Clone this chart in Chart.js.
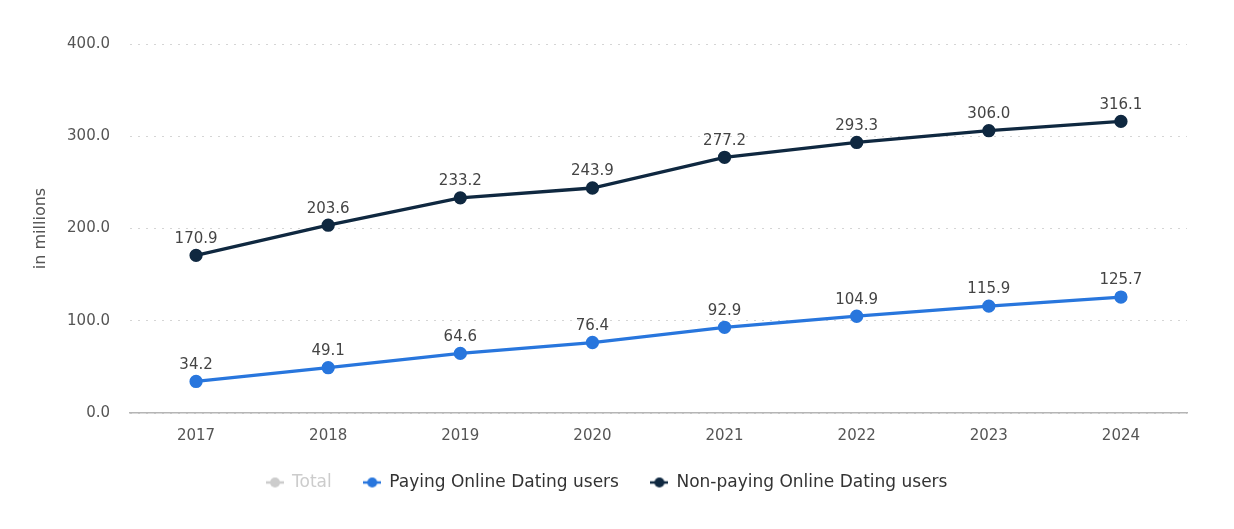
<!DOCTYPE html>
<html>
<head>
<meta charset="utf-8">
<script src="https://cdn.jsdelivr.net/npm/chart.js@4.4.1/dist/chart.umd.min.js"></script>
<style>
  html, body { margin: 0; padding: 0; background: #fff; }
  #wrap { width: 1234px; height: 529px; }
</style>
</head>
<body>
<div id="wrap"><canvas id="myChart"></canvas></div>
<script>
// data
var years = ["2017", "2018", "2019", "2020", "2021", "2022", "2023", "2024"];
var totalUsers = [205.1, 252.7, 297.8, 320.3, 370.1, 398.2, 421.9, 441.8];
var payingUsers = [34.2, 49.1, 64.6, 76.4, 92.9, 104.9, 115.9, 125.7];
var nonPayingUsers = [170.9, 203.6, 233.2, 243.9, 277.2, 293.3, 306.0, 316.1];
var yTicks = [0, 100, 200, 300, 400];

var fontName = "'DejaVu Sans', sans-serif";

// legend marker: short line with a dot on it
function legendMarker(color) {
  var c = document.createElement('canvas');
  c.width = 18; c.height = 12;
  var g = c.getContext('2d');
  g.strokeStyle = color;
  g.lineWidth = 2.5;
  g.beginPath(); g.moveTo(0, 6); g.lineTo(18, 6); g.stroke();
  g.fillStyle = color;
  g.beginPath(); g.arc(9, 6, 5, 0, Math.PI * 2); g.fill();
  return c;
}

// values above each point
var valueLabels = {
  id: 'valueLabels',
  afterDatasetsDraw: function(chart) {
    var ctx = chart.ctx;
    ctx.save();
    ctx.font = '15px ' + fontName;
    ctx.fillStyle = '#444';
    ctx.textAlign = 'center';
    ctx.textBaseline = 'bottom';
    chart.data.datasets.forEach(function(ds, i) {
      if (!chart.isDatasetVisible(i)) return;
      var meta = chart.getDatasetMeta(i);
      meta.data.forEach(function(pt, j) {
        ctx.fillText(ds.data[j].toFixed(1), pt.x, pt.y - 9);
      });
    });
    ctx.restore();
  }
};

var ctx = document.getElementById("myChart").getContext('2d');
var myChart = new Chart(ctx, {
  type: 'line',
  data: {
    labels: years,
    datasets: [{
      label: 'Total',
      data: totalUsers,
      hidden: true,
      borderColor: '#cccccc',
      backgroundColor: '#cccccc'
    }, {
      label: 'Paying Online Dating users',
      data: payingUsers,
      borderColor: '#2876dd',
      backgroundColor: '#2876dd',
      borderWidth: 3.3,
      pointRadius: 5,
      pointHoverRadius: 5
    }, {
      label: 'Non-paying Online Dating users',
      data: nonPayingUsers,
      borderColor: '#0f2840',
      backgroundColor: '#0f2840',
      borderWidth: 3.3,
      pointRadius: 5,
      pointHoverRadius: 5
    }]
  },
  plugins: [valueLabels],
  options: {
    responsive: true,
    maintainAspectRatio: false,
    animation: false,
    layout: {
      padding: { left: 27, right: 47, top: 44, bottom: 28 }
    },
    scales: {
      x: {
        offset: true,
        afterFit: function(axis) { axis.height -= 17; },
        grid: { display: false, drawTicks: false },
        border: { display: true, color: '#b5b5b5', width: 1.5 },
        ticks: {
          color: '#555',
          font: { size: 15, family: fontName },
          padding: 14
        }
      },
      y: {
        min: 0,
        max: 400,
        afterFit: function(axis) { axis.width = 103; },
        afterBuildTicks: function(axis) {
          axis.ticks = yTicks.map(function(v) { return { value: v }; });
        },
        grid: { color: '#d5d5d5', drawTicks: false, lineWidth: 1 },
        border: { display: false, dash: [2, 6] },
        ticks: {
          color: '#555',
          font: { size: 15, family: fontName },
          padding: 20,
          callback: function(v) { return v.toFixed(1); }
        },
        title: {
          display: true,
          text: 'in millions',
          color: '#555',
          font: { size: 16, family: fontName },
          padding: { bottom: 17 }
        }
      }
    },
    plugins: {
      tooltip: { enabled: false },
      legend: {
        position: 'bottom',
        onClick: null,
        labels: {
          usePointStyle: true,
          boxWidth: 18,
          boxHeight: 12,
          padding: 32,
          color: '#333',
          font: { size: 17, family: fontName },
          generateLabels: function(chart) {
            return chart.data.datasets.map(function(ds, i) {
              return {
                text: ds.label,
                fillStyle: ds.backgroundColor,
                strokeStyle: ds.borderColor,
                fontColor: i === 0 ? '#cccccc' : '#333',
                pointStyle: legendMarker(ds.borderColor),
                lineWidth: 0,
                hidden: false,
                datasetIndex: i
              };
            });
          }
        }
      }
    }
  }
});
</script>
</body>
</html>
